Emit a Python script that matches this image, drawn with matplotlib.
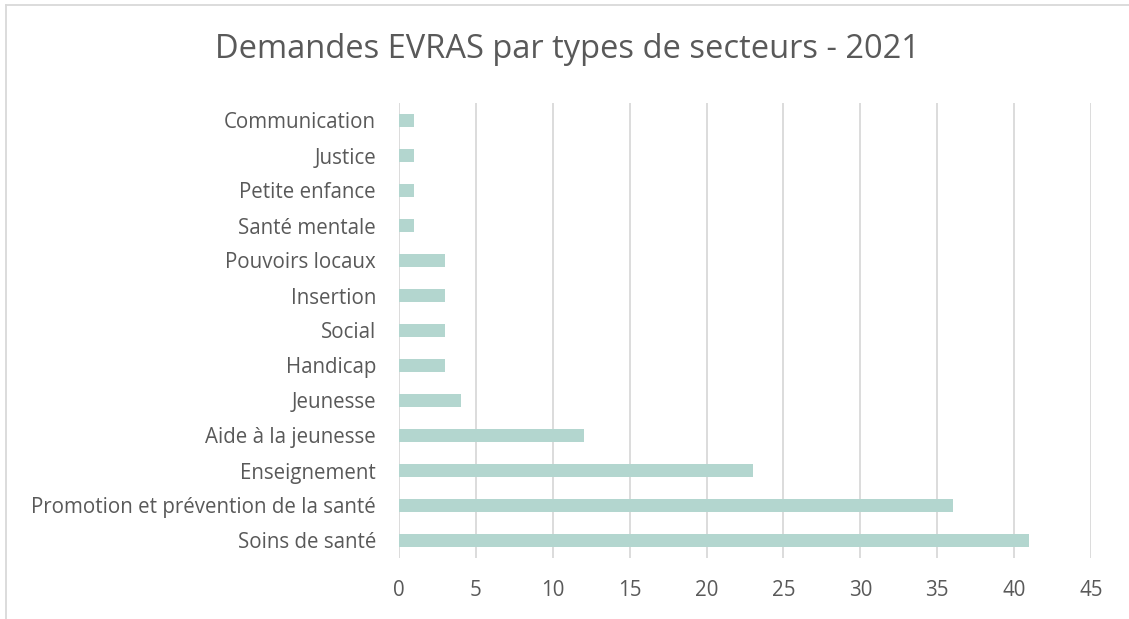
import matplotlib
matplotlib.use("Agg")
import matplotlib.pyplot as plt
from matplotlib.lines import Line2D

categories = ["Communication", "Justice", "Petite enfance", "Santé mentale",
              "Pouvoirs locaux", "Insertion", "Social", "Handicap", "Jeunesse",
              "Aide à la jeunesse", "Enseignement",
              "Promotion et prévention de la santé", "Soins de santé"]
values = [1, 1, 1, 1, 3, 3, 3, 3, 4, 12, 23, 36, 41]
xticks = [0, 5, 10, 15, 20, 25, 30, 35, 40, 45]
title = "Demandes EVRAS par types de secteurs - 2021"

plt.rcParams['font.family'] = ['Open Sans', 'DejaVu Sans']
text_color = "#595959"

fig = plt.figure(figsize=(11.29, 6.19), dpi=100)
ax = fig.add_axes([399/1129, 1-558/619, (1091-399)/1129, (558-103)/619])

ypos = list(range(len(categories)))
ax.barh(ypos, values, height=0.35, color="#B3D6CF", zorder=2)
ax.set_ylim(len(categories)-0.5, -0.5)
ax.set_xlim(0, 45)
ax.set_xticks(xticks)
ax.set_xticklabels([str(t) for t in xticks])
ax.set_yticks(ypos)
ax.set_yticklabels(categories)
ax.tick_params(axis='both', length=0, colors=text_color, labelsize=14.8)
ax.tick_params(axis='x', pad=16)
ax.tick_params(axis='y', pad=16.5)
ax.grid(axis='x', color="#D9D9D9", linewidth=1.3, zorder=0)
for s in ax.spines.values():
    s.set_visible(False)

fig.text(567/1129, 1-49/619, title, ha='center', va='center', fontsize=23.5, color=text_color)

# outer border (cropped chart area)
fig.add_artist(Line2D([5.5/1129, 1], [1-4.5/619, 1-4.5/619], transform=fig.transFigure, color="#D9D9D9", linewidth=1.3))
fig.add_artist(Line2D([5.5/1129, 5.5/1129], [0, 1-4.5/619], transform=fig.transFigure, color="#D9D9D9", linewidth=1.3))

fig.savefig("out.png", dpi=100, facecolor="white")
